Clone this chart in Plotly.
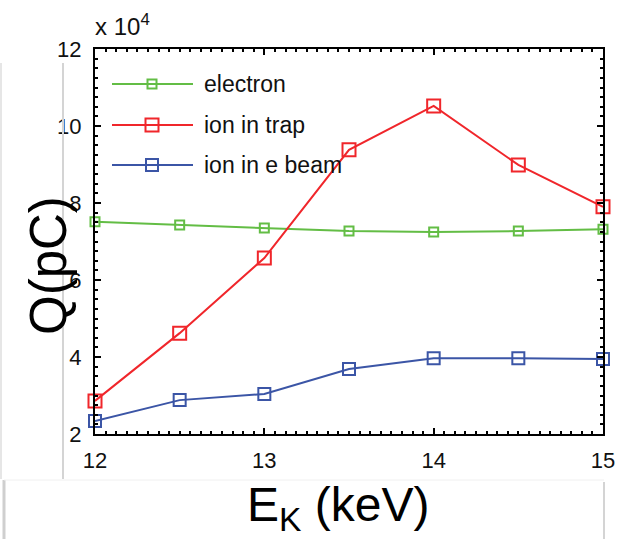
import plotly.graph_objects as go

energy_kev = [12, 12.5, 13, 13.5, 14, 14.5, 15]
electron = [7.51, 7.43, 7.35, 7.27, 7.25, 7.27, 7.32]
ion_trap = [2.86, 4.62, 6.57, 9.38, 10.52, 8.99, 7.90]
ion_ebeam = [2.34, 2.88, 3.04, 3.69, 3.97, 3.97, 3.95]
y_ticks = [2, 4, 6, 8, 10, 12]
x_ticks = [12, 13, 14, 15]
series_names = ["electron", "ion in trap", "ion in e beam"]

GREEN = "#63bd45"
RED = "#f0262b"
BLUE = "#3b55a6"
FONT = "Liberation Sans, Arial, Helvetica, sans-serif"

W, H = 619, 539
L, R, T, B = 95, 603, 49, 434


def px(x):
    return (x - L) / (R - L)


def py(y):
    return (B - y) / (B - T)


fig = go.Figure()
specs = [(electron, GREEN, 9), (ion_trap, RED, 13), (ion_ebeam, BLUE, 12)]
for (vals, col, ms), name in zip(specs, series_names):
    fig.add_trace(go.Scatter(
        x=energy_kev, y=vals, mode="lines+markers", name=name,
        line=dict(color=col, width=2),
        marker=dict(symbol="square-open", size=ms, color=col, line=dict(width=2)),
        showlegend=False, cliponaxis=False,
    ))

shapes = []
annotations = []
# manual legend
leg_rows = [84, 125, 165]
for (vals, col, ms), name, ry in zip(specs, series_names, leg_rows):
    shapes.append(dict(type="line", xref="paper", yref="paper",
                       x0=px(112), x1=px(193), y0=py(ry), y1=py(ry),
                       line=dict(color=col, width=2)))
    h = ms / 2
    shapes.append(dict(type="rect", xref="paper", yref="paper",
                       x0=px(152 - h), x1=px(152 + h), y0=py(ry + h), y1=py(ry - h),
                       line=dict(color=col, width=2), fillcolor="rgba(0,0,0,0)"))
    annotations.append(dict(text=name, xref="paper", yref="paper", x=px(202), y=py(ry),
                            xanchor="left", yanchor="middle", showarrow=False,
                            font=dict(family=FONT, size=23, color="#111")))

# exponent label
annotations.append(dict(text="x 10<sup>4</sup>", xref="paper", yref="paper",
                        x=px(93), y=py(42), xanchor="left", yanchor="bottom",
                        showarrow=False, font=dict(family=FONT, size=24, color="#111")))

# overlay boxes (light gray edges)
shapes += [
    dict(type="line", xref="paper", yref="paper", x0=px(63), x1=px(63), y0=py(63), y1=py(479),
         line=dict(color="#d4d4d4", width=2)),
    dict(type="line", xref="paper", yref="paper", x0=px(1), x1=px(1), y0=py(63), y1=py(479),
         line=dict(color="#e6e6e6", width=2)),
    dict(type="line", xref="paper", yref="paper", x0=px(4), x1=px(4), y0=py(480), y1=py(539),
         line=dict(color="#cfcfcf", width=3)),
    dict(type="line", xref="paper", yref="paper", x0=px(604), x1=px(604), y0=py(482), y1=py(539),
         line=dict(color="#d4d4d4", width=2)),
    dict(type="line", xref="paper", yref="paper", x0=px(4), x1=px(604), y0=py(480), y1=py(480),
         line=dict(color="#f0f0f0", width=1)),
]

# big axis labels
annotations.append(dict(text="Q(pC)", xref="paper", yref="paper", x=px(48), y=py(266),
                        xanchor="center", yanchor="middle", textangle=-90, showarrow=False,
                        font=dict(family=FONT, size=51, color="#000")))
annotations.append(dict(text="E<sub>K</sub> (keV)", xref="paper", yref="paper", x=px(338), y=py(508),
                        xanchor="center", yanchor="middle", showarrow=False,
                        font=dict(family=FONT, size=48, color="#000")))

axis_common = dict(showline=True, linecolor="#000", linewidth=2, mirror="allticks",
                   ticks="inside", ticklen=6, tickcolor="#000", tickwidth=1.5,
                   showgrid=False, zeroline=False, automargin=False,
                   tickfont=dict(family=FONT, size=22, color="#111"))

fig.update_layout(
    width=W, height=H,
    margin=dict(l=L, r=W - R, t=T, b=H - B, autoexpand=False),
    paper_bgcolor="white", plot_bgcolor="white",
    xaxis=dict(range=[12, 15], tickvals=x_ticks, ticktext=[str(v) for v in x_ticks],
               ticklabelstandoff=6,
               minor=dict(dtick=0.0625, tick0=12, ticks="inside", ticklen=3, tickcolor="#000"),
               **axis_common),
    yaxis=dict(range=[2, 12], tickvals=y_ticks, ticktext=[str(v) for v in y_ticks],
               ticklabelstandoff=7,
               minor=dict(dtick=0.25, tick0=2, ticks="inside", ticklen=3, tickcolor="#000"),
               **axis_common),
    shapes=shapes, annotations=annotations,
    showlegend=False,
)

fig.write_html("out.html", config={"displayModeBar": False},
               post_script="document.body.style.margin='0';")
